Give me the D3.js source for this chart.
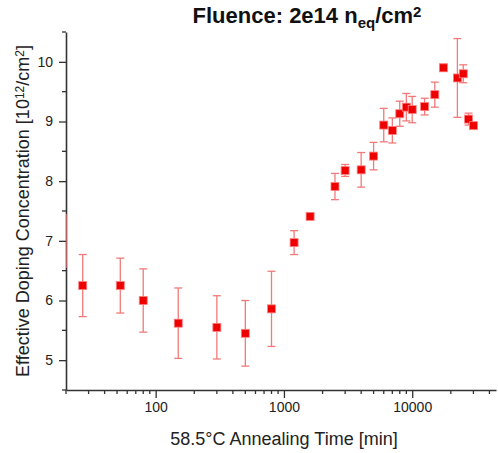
<!DOCTYPE html>
<html>
<head>
<meta charset="utf-8">
<script src="https://cdn.jsdelivr.net/npm/d3@7"></script>
<style>
  body { margin: 0; background: #fff; }
  svg { font-family: "Liberation Sans", Arial, sans-serif; }
  .axis path, .axis line { stroke: #333; }
  .axis text { fill: #222; font-size: 14px; }
</style>
</head>
<body>
<div id="chart"></div>
<script>
// annealing time [min] at 58.5 C
var times  = [15, 27, 53, 80, 150, 300, 500, 800, 1200, 1600, 2500, 3000, 4000, 5000,
              6000, 7000, 8000, 9000, 10000, 12500, 15000, 17500, 22500, 25000, 27500, 30000];
// effective doping concentration [1e12/cm2]
var neff   = [7.0, 6.25, 6.25, 6.0, 5.62, 5.55, 5.45, 5.86, 6.97, 7.41, 7.91, 8.18, 8.19, 8.42,
              8.94, 8.85, 9.13, 9.24, 9.20, 9.25, 9.45, 9.90, 9.73, 9.80, 9.04, 8.93];
var errors = [0.45, 0.52, 0.46, 0.53, 0.59, 0.53, 0.55, 0.63, 0.2, 0.02, 0.22, 0.1, 0.29, 0.23,
              0.28, 0.21, 0.21, 0.23, 0.22, 0.14, 0.21, 0.06, 0.66, 0.15, 0.1, 0.02];

var xTicksMajor = [100, 1000, 10000];
var yTicksMajor = [5, 6, 7, 8, 9, 10];

var data = times.map(function(t, i) { return { t: t, v: neff[i], e: errors[i] }; });

var width = 498, height = 453;
var svg = d3.select("#chart").append("svg")
    .attr("width", width)
    .attr("height", height);

var x = d3.scaleLog().domain([20, 45000]).range([66, 496]);
var y = d3.scaleLinear().domain([4.5, 10.5]).range([390, 32]);

// minor ticks
var xMinor = [];
[10, 100, 1000, 10000].forEach(function(dec) {
    for (var k = 2; k <= 9; k++) {
        var val = dec * k;
        if (val >= 20 && val <= 45000) xMinor.push(val);
    }
});
var yMinor = d3.range(4.5, 10.51, 0.5).filter(function(v) { return v % 1 !== 0; });

svg.append("defs").append("clipPath")
    .attr("id", "clip")
    .append("rect")
    .attr("x", 66).attr("y", 0)
    .attr("width", 432).attr("height", 390);

// axes
var xAxis = d3.axisBottom(x).tickValues(xTicksMajor).tickFormat(d3.format("d"))
    .tickSize(8).tickSizeOuter(0).tickPadding(4);
var yAxis = d3.axisLeft(y).tickValues(yTicksMajor).tickFormat(d3.format("d"))
    .tickSize(7).tickSizeOuter(0).tickPadding(6);

var gx = svg.append("g").attr("class", "x-axis axis")
    .attr("transform", "translate(0,390)")
    .call(xAxis);
gx.selectAll(".minor").data(xMinor).enter().append("line")
    .attr("class", "minor")
    .attr("x1", function(d) { return x(d); }).attr("x2", function(d) { return x(d); })
    .attr("y1", 0).attr("y2", 4);

var gy = svg.append("g").attr("class", "y-axis axis")
    .attr("transform", "translate(66,0)")
    .call(yAxis);
gy.selectAll(".minor").data(yMinor).enter().append("line")
    .attr("class", "minor")
    .attr("x1", 0).attr("x2", -4)
    .attr("y1", function(d) { return y(d); }).attr("y2", function(d) { return y(d); });

svg.selectAll(".axis path").attr("stroke-width", 1.6);
svg.selectAll(".axis line").attr("stroke-width", 1.3);

// error bars + markers
var plot = svg.append("g").attr("clip-path", "url(#clip)");
var xc = function(d) { return Math.max(x(d.t), x.range()[0]); };
var inside = data.filter(function(d) { return d.t >= 20; });

plot.selectAll(".err").data(data).enter().append("line")
    .attr("class", "err")
    .attr("x1", xc).attr("x2", xc)
    .attr("y1", function(d) { return y(d.v + d.e); })
    .attr("y2", function(d) { return y(d.v - d.e); })
    .attr("stroke", "#f27a7a").attr("stroke-width", 1.3);

[1, -1].forEach(function(s) {
    plot.selectAll(".cap" + s).data(inside).enter().append("line")
        .attr("x1", function(d) { return x(d.t) - 4; })
        .attr("x2", function(d) { return x(d.t) + 4; })
        .attr("y1", function(d) { return y(d.v + s * d.e); })
        .attr("y2", function(d) { return y(d.v + s * d.e); })
        .attr("stroke", "#f27a7a").attr("stroke-width", 1.3);
});

plot.selectAll(".pt").data(inside).enter().append("rect")
    .attr("class", "pt")
    .attr("x", function(d) { return x(d.t) - 4; })
    .attr("y", function(d) { return y(d.v) - 4; })
    .attr("width", 8).attr("height", 8)
    .attr("fill", "#ee0000")
    .attr("stroke", "#ff8080").attr("stroke-width", 0.8);

// title
var title = svg.append("text")
    .attr("x", 307).attr("y", 23)
    .attr("text-anchor", "middle")
    .style("font-size", "22px").style("font-weight", "bold").attr("fill", "#111");
title.append("tspan").text("Fluence: 2e14 n");
title.append("tspan").attr("baseline-shift", "-30%").style("font-size", "15px").text("eq");
title.append("tspan").text("/cm");
title.append("tspan").attr("baseline-shift", "40%").style("font-size", "15px").text("2");

// x label
svg.append("text")
    .attr("x", 284).attr("y", 445)
    .attr("text-anchor", "middle")
    .style("font-size", "18px").attr("fill", "#222")
    .text("58.5\u00b0C Annealing Time [min]");

// y label
var yl = svg.append("text")
    .attr("transform", "translate(29,211) rotate(-90)")
    .attr("text-anchor", "middle")
    .style("font-size", "18px").attr("fill", "#222");
yl.append("tspan").text("Effective Doping Concentration [10");
yl.append("tspan").attr("baseline-shift", "40%").style("font-size", "12px").text("12");
yl.append("tspan").text("/cm");
yl.append("tspan").attr("baseline-shift", "40%").style("font-size", "12px").text("2");
yl.append("tspan").text("]");
</script>
</body>
</html>
